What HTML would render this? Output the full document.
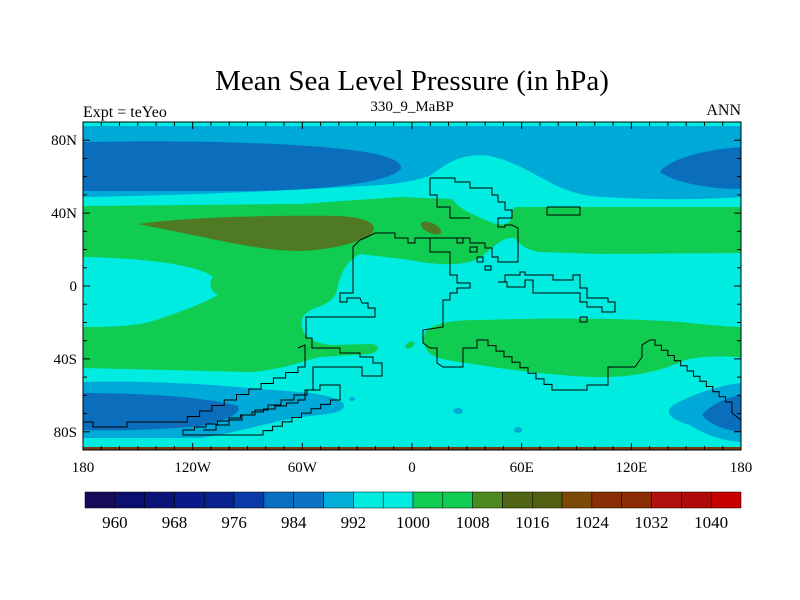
<!DOCTYPE html>
<html><head><meta charset="utf-8"><style>
html,body{margin:0;padding:0;background:#fff;}
svg{display:block;font-family:"Liberation Serif",serif;}
</style></head><body>
<svg id="c" width="800" height="600" viewBox="0 0 800 600">
<text x="412" y="90" font-size="29" text-anchor="middle">Mean Sea Level Pressure (in hPa)</text>
<text x="412" y="111" font-size="15" text-anchor="middle">330_9_MaBP</text>
<text x="83" y="117" font-size="16">Expt = teYeo</text>
<text x="741" y="115" font-size="16" text-anchor="end">ANN</text>
<defs><clipPath id="pc"><rect x="83" y="122" width="658" height="328"/></clipPath></defs>
<g clip-path="url(#pc)">
<rect x="83" y="122" width="658" height="328" fill="#00ece0"/>
<path fill="#00aad8" d="M83,126 L741,126 L741,197 C700,200 640,200 590,196 C550,190 530,165 490,156 C460,152 445,165 430,176 C410,182 395,184 380,185 C300,190 200,195 83,197 Z"/>
<path fill="#0a6ebd" d="M83,142 C200,140 330,143 380,155 C400,160 403,167 400,170 C390,180 340,190 250,191 L83,191 Z"/>
<path fill="#0a6ebd" d="M741,147 L741,189 C710,189 675,183 660,172 C668,160 700,150 741,147 Z"/>
<path fill="#10cc50" d="M83,206 L300,204 L400,197 L450,199 C465,202 470,212 500,214 C508,214 512,212 515,207 L741,207 L741,253 L600,254 L540,252 C525,250 518,243 515,238 C505,236 495,245 480,258 C465,266 440,266 410,260 L360,254 C345,262 340,275 337,290 C335,298 330,303 315,308 C303,313 300,320 302,327 C304,336 310,342 330,345 L372,344 C380,345 380,352 370,354 L320,357 C300,362 280,370 250,372 L83,368 Z"/>
<path fill="#00ece0" d="M83,257 C150,258 200,266 213,277 C208,285 210,290 218,295 C200,305 180,312 150,322 C130,327 100,327 83,327 Z"/>
<path fill="#00ece0" d="M453,200 C470,196 500,200 510,210 C515,222 505,228 490,222 C475,215 460,210 453,200 Z"/>
<path fill="#4f7a23" d="M138,224 C180,218 250,215 340,216 C370,218 378,225 372,233 C360,243 330,250 300,251 C260,251 220,240 138,224 Z"/>
<ellipse cx="431" cy="228" rx="11" ry="5" transform="rotate(25 431 228)" fill="#4f7a23"/>
<path fill="#10cc50" d="M425,333 C430,325 445,320 480,320 C550,318 620,318 680,322 C710,325 730,327 741,327 L741,357 C720,356 700,356 685,360 C660,372 630,378 593,377 C560,376 510,370 480,365 C460,362 440,360 432,355 C424,350 422,340 425,333 Z"/>
<ellipse cx="410" cy="345" rx="5" ry="3" transform="rotate(-30 410 345)" fill="#10cc50"/>
<path fill="#00aad8" d="M83,382 C150,380 220,385 260,389 L300,392 C320,394 338,397 344,404 C345,412 335,414 300,417 C270,422 240,432 200,438 L83,438 Z"/>
<path fill="#0a6ebd" d="M83,393 C150,393 210,398 238,406 C242,412 230,420 200,426 C160,430 110,431 83,430 Z"/>
<path fill="#00aad8" d="M741,383 L741,442 C720,441 700,432 690,425 C670,420 665,412 672,406 C690,395 720,385 741,383 Z"/>
<path fill="#0a6ebd" d="M741,395 L741,432 C725,430 710,425 702,415 C710,405 725,398 741,395 Z"/>
<ellipse cx="458" cy="411" rx="5" ry="3" fill="#00aad8"/>
<ellipse cx="518" cy="430" rx="4" ry="3" fill="#00aad8"/>
<ellipse cx="352" cy="399" rx="3" ry="2" fill="#00aad8"/>
<rect x="83" y="122" width="658" height="4" fill="#00ece0"/>
<rect x="83" y="447" width="658" height="4" fill="#7a3a10"/>
<g id="coast" fill="none" stroke="#000" stroke-width="1"></g>
</g>
<rect x="83" y="122" width="658" height="328" fill="none" stroke="#000" stroke-width="1"/>
<g id="axes"></g>
<g id="cbar"></g>
</svg>
<script>
var NS="http://www.w3.org/2000/svg";
var lonTicks=[-180,-120,-60,0,60,120,180];
var lonLabels=["180","120W","60W","0","60E","120E","180"];
var latTicks=[80,40,0,-40,-80];
var latLabels=["80N","40N","0","40S","80S"];
var cbarColors=["#1a0a5c","#0a0f70","#0a1478","#0a1a88","#08208e","#0a3aa8","#0a6ec0","#0a72c0","#00aed8","#00ece0","#00ece0","#10cc50","#10cc50","#4a8a20","#506414","#506010","#7a4a06","#8a2e06","#8c2c04","#b01010","#b00a0a","#c80000"];
var cbarLabels=["960","968","976","984","992","1000","1008","1016","1024","1032","1040"];
var X0=83,X1=741,Y0=122,Y1=450;
function xs(lon){return X0+(lon+180)/360*(X1-X0);}
function ys(lat){return Y0+(90-lat)/180*(Y1-Y0);}
function mk(t,a,p){var e=document.createElementNS(NS,t);for(var k in a)e.setAttribute(k,a[k]);p.appendChild(e);return e;}
var axes=document.getElementById('axes');
for(var l=-180;l<=180;l+=10){var x=xs(l),maj=(l%60===0),len=maj?7:4;
 var t1=mk('line',{x1:x,x2:x,y1:Y1,y2:Y1-len,stroke:'#000'},axes);
 
 
 var t2=mk('line',{x1:x,x2:x,y1:Y0,y2:Y0+len,stroke:'#000'},axes);
 
 }
for(var a=-90;a<=90;a+=10){var y=ys(a),maj=(a%40===0&&a!==0)||a===0,len=maj?7:4;
 var t3=mk('line',{x1:X0,x2:X0+len,y1:y,y2:y,stroke:'#000'},axes);
 
 
 var t4=mk('line',{x1:X1,x2:X1-len,y1:y,y2:y,stroke:'#000'},axes);
 
 }
lonTicks.forEach(function(v,i){var t=mk('text',{x:xs(v),y:472,'font-size':15,'text-anchor':'middle'},axes);t.textContent=lonLabels[i];
 
 });
latTicks.forEach(function(v,i){var t=mk('text',{x:77,y:ys(v)+5,'font-size':15,'text-anchor':'end'},axes);t.textContent=latLabels[i];
 
 });
var cb=document.getElementById('cbar'),CX0=85,CX1=741,CY=492,CH=16,bw=(CX1-CX0)/cbarColors.length;
cbarColors.forEach(function(c,i){var r=mk('rect',{x:CX0+i*bw,y:CY,width:bw,height:CH,fill:c,stroke:'#000','stroke-width':0.5},cb);
 
 });
cbarLabels.forEach(function(s,i){var t=mk('text',{x:CX0+(1+2*i)*bw,y:528,'font-size':17,'text-anchor':'middle'},cb);t.textContent=s;
 
 });
var coast=document.getElementById('coast');
function stairs(x0,y0,x1,y1,n){var s=[],dx=(x1-x0)/n,dy=(y1-y0)/n;for(var i=0;i<n;i++){s.push([x0+dx*i,y0+dy*(i+1)]);s.push([x0+dx*(i+1),y0+dy*(i+1)]);}return s;}
function poly(pts,name){var d=pts.map(function(p,i){return (i?'L':'M')+p[0].toFixed(1)+','+p[1].toFixed(1);}).join(' ');var e=mk('path',{d:d},coast);
 
 }
var main=[[430,178],[455,178],[455,182],[470,182],[470,188],[492,188],[492,195],[498,195],[498,202],[505,202],[505,210],[512,210],[512,218],[498,218],[498,227],[505,227],[505,225],[512,225],[518,228],[518,262],[498,262],[498,257],[492,257],[492,248],[485,248],[485,243],[470,243],[470,238],[430,238],[430,252],[450,252],[450,275],[457,275],[457,283],[470,283],[470,288],[457,288],[457,293],[450,293],[450,300],[443,300],[443,327],[423,330],[423,343],[430,348],[437,348],[437,363],[443,367],[463,367],[463,348],[477,348],[477,340],[488,340]].concat(stairs(488,340,560,390,9)).concat([[587,390],[587,385],[608,385],[608,367],[635,367],[642,357],[642,345],[650,340],[655,340]]).concat(stairs(655,340,732,402,12)).concat([[732,413],[741,420]]);
poly(main,'coastline-east');
var north=[[430,178],[430,195],[437,195],[437,207],[450,207],[450,218],[470,218]];
poly(north,'coastline-north');
var west=[[430,238],[415,238],[415,243],[408,243],[408,238],[395,238],[395,233],[375,233],[367,237],[360,240],[353,247],[353,293],[340,293],[340,302],[347,302],[347,298],[360,298],[362,303],[368,303],[368,308],[375,308],[375,317],[306,317],[306,338],[312,338],[312,348],[340,348],[340,353],[360,353],[360,357],[373,357],[373,363],[382,363],[382,376],[362,376],[362,367],[313,367],[313,390],[305,390],[305,400],[298,400]].concat(stairs(298,400,183,430,10)).concat([[183,435],[263,435]]).concat(stairs(263,435,340,400,8)).concat([[340,385],[320,385]]).concat(stairs(320,385,203,430,9));
poly(west,'coastline-west');
var sw=[[298,348],[305,345],[305,367],[298,367]].concat(stairs(298,367,175,422,10)).concat([[127,422],[127,427],[93,427],[93,422],[83,422]]);
poly(sw,'coastline-southwest');
var sib=[[498,282],[505,282],[505,275],[520,275],[520,272],[525,272],[525,275],[553,275],[553,280],[573,280],[573,275],[580,275],[580,288],[587,288],[587,298],[608,298],[608,302],[615,302],[615,312],[602,312],[602,307],[587,307],[587,302],[580,302],[580,293],[533,293],[533,280],[525,280],[525,287],[507,287],[507,282],[498,282]];
poly(sib,'coastline-siberia');
poly([[547,207],[580,207],[580,215],[547,215],[547,207]],'island-1');
poly([[580,317],[587,317],[587,322],[580,322],[580,317]],'island-2');
poly([[457,238],[463,238],[463,243],[457,243],[457,238]],'island-3');
poly([[470,247],[477,247],[477,252],[470,252],[470,247]],'island-4');
poly([[477,257],[483,257],[483,262],[477,262],[477,257]],'island-5');
poly([[485,266],[491,266],[491,270],[485,270],[485,266]],'island-6');
</script>
</body></html>
